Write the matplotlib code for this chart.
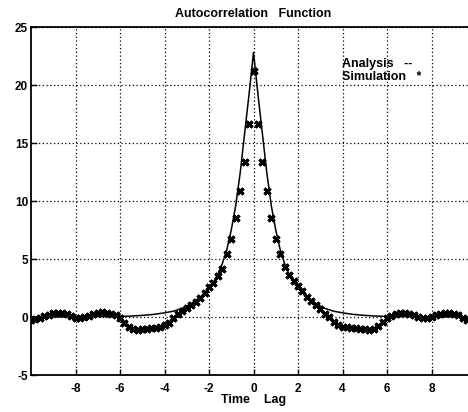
import matplotlib
matplotlib.use('Agg')
import matplotlib.pyplot as plt

plt.rcParams['font.family'] = ['Liberation Sans', 'DejaVu Sans']
plt.rcParams['axes.unicode_minus'] = False

# Analysis (solid line), symmetric about lag 0
lag_a = [-10, -9, -8, -7, -6, -5.5, -5, -4.5, -4, -3.6, -3.2, -2.8, -2.4, -2.0,
         -1.8, -1.6, -1.4, -1.2, -1.0, -0.8, -0.6, -0.4, -0.2, 0,
         0.2, 0.4, 0.6, 0.8, 1.0, 1.2, 1.4, 1.6, 1.8, 2.0,
         2.4, 2.8, 3.2, 3.6, 4, 4.5, 5, 5.5, 6, 7, 8, 9, 10]
acf_a = [0.0, 0.01, 0.02, 0.03, 0.05, 0.08, 0.14, 0.22, 0.36, 0.5, 0.75, 1.15, 1.7, 2.5,
         3.0, 3.7, 4.6, 5.8, 7.5, 9.6, 12.4, 15.8, 19.2, 22.8,
         19.2, 15.8, 12.4, 9.6, 7.5, 5.8, 4.6, 3.7, 3.0, 2.5,
         1.7, 1.15, 0.75, 0.5, 0.36, 0.22, 0.14, 0.08, 0.05, 0.03, 0.02, 0.01, 0.0]

# Simulation (asterisks), lag step 0.2
lag_s = [round(-10 + 0.2 * i, 1) for i in range(101)]
acf_s = [-0.25, -0.2, -0.1, 0.05, 0.2, 0.32, 0.35, 0.33, 0.25, 0.1,
         -0.05, -0.1, -0.03, 0.1, 0.25, 0.35, 0.4, 0.38, 0.3, 0.15,
         -0.1, -0.5, -0.85, -1.05, -1.1, -1.05, -1.0, -0.95, -0.92, -0.85,
         -0.72, -0.5, -0.1, 0.25, 0.5, 0.78, 1.0, 1.3, 1.65, 2.1,
         2.6, 2.95, 3.5, 4.1, 5.4, 6.75, 8.5, 10.9, 13.4, 16.6,
         21.2,
         16.6, 13.4, 10.9, 8.5, 6.75, 5.4, 4.3, 3.6, 3.1, 2.7,
         2.2, 1.75, 1.35, 1.0, 0.65, 0.3, 0.0, -0.4, -0.7, -0.85,
         -0.9, -0.95, -0.95, -1.0, -1.05, -1.1, -1.0, -0.75, -0.4, -0.1,
         0.1, 0.25, 0.33, 0.35, 0.3, 0.15, 0.0, -0.12, -0.12, -0.02,
         0.15, 0.28, 0.33, 0.34, 0.3, 0.15, -0.05, -0.25, -0.35, -0.4]

xticks = [-8, -6, -4, -2, 0, 2, 4, 6, 8]
yticks = [-5, 0, 5, 10, 15, 20, 25]

fig = plt.figure(figsize=(4.68, 4.12), dpi=100)
ax = fig.add_axes([31 / 468, 37 / 412, 445 / 468, 348 / 412])

ax.plot(lag_a, acf_a, color='black', lw=1.1)
ax.plot(lag_s, acf_s, linestyle='none', marker=(4, 2, 45), markersize=6,
        markeredgewidth=2.2, color='black')

ax.set_xlim(-10, 10)
ax.set_ylim(-5, 25)
ax.set_xticks(xticks)
ax.set_yticks(yticks)
ax.grid(True, color='black', linestyle=(0, (1, 2)), linewidth=0.9)
ax.tick_params(direction='in', length=4, width=1, labelsize=8.5)
ax.tick_params(axis='x', pad=6)
ax.tick_params(axis='y', pad=2)
for lbl in ax.get_xticklabels() + ax.get_yticklabels():
    lbl.set_fontweight('bold')
for s in ax.spines.values():
    s.set_linewidth(1.3)

ax.set_title('Autocorrelation   Function', fontsize=9, fontweight='bold', pad=7)
ax.set_xlabel('Time    Lag', fontsize=9, fontweight='bold', labelpad=-1)

ax.text(4.0, 21.85, 'Analysis   --', fontsize=9, fontweight='bold', va='center')
ax.text(4.0, 20.65, 'Simulation   *', fontsize=9, fontweight='bold', va='center')

fig.savefig('out.png', dpi=100)
